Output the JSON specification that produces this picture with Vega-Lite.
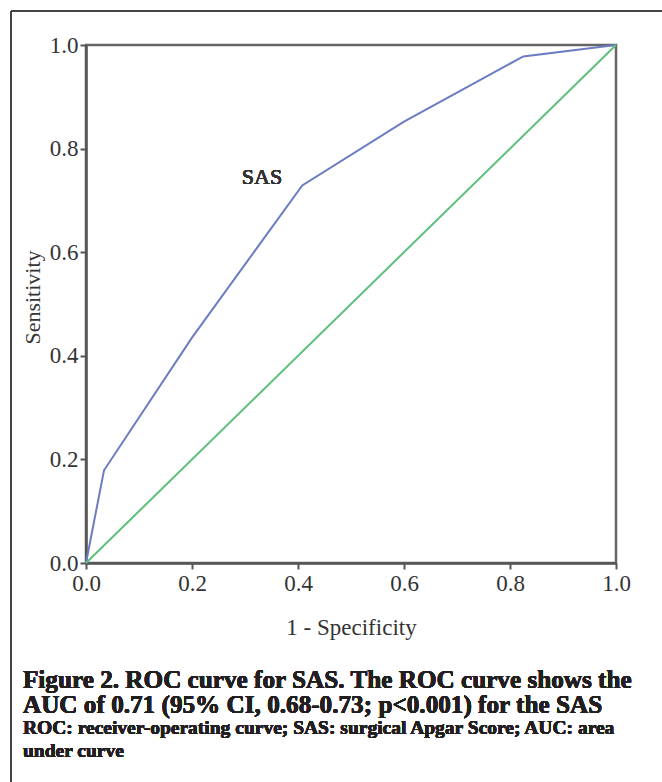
{
  "$schema": "https://vega.github.io/schema/vega-lite/v6.json",
  "autosize": "none",
  "width": 530,
  "height": 518,
  "padding": {"left": 86, "top": 45, "right": 46, "bottom": 219},
  "background": "white",
  "config": {
    "font": "Liberation Serif",
    "view": {"stroke": "#666666", "strokeWidth": 2.5}
  },
  "data": {
    "values": [
      {"fpr": 0.0, "tpr": 0.0, "series": "SAS", "order": 1},
      {"fpr": 0.034, "tpr": 0.179, "series": "SAS", "order": 2},
      {"fpr": 0.2, "tpr": 0.435, "series": "SAS", "order": 3},
      {"fpr": 0.408, "tpr": 0.729, "series": "SAS", "order": 4},
      {"fpr": 0.6, "tpr": 0.852, "series": "SAS", "order": 5},
      {"fpr": 0.825, "tpr": 0.978, "series": "SAS", "order": 6},
      {"fpr": 1.0, "tpr": 1.0, "series": "SAS", "order": 7},
      {"fpr": 0.0, "tpr": 0.0, "series": "Reference", "order": 1},
      {"fpr": 1.0, "tpr": 1.0, "series": "Reference", "order": 2}
    ]
  },
  "layer": [
    {
      "mark": {"type": "rule", "color": "#444444", "strokeWidth": 1.5, "clip": false},
      "encoding": {
        "x": {"datum": -0.1415, "type": "quantitative"},
        "y": {"datum": -0.43, "type": "quantitative"},
        "y2": {"datum": 1.0656}
      }
    },
    {
      "mark": {"type": "rule", "color": "#444444", "strokeWidth": 1.5, "clip": false},
      "encoding": {
        "y": {"datum": 1.0656, "type": "quantitative"},
        "x": {"datum": -0.1415, "type": "quantitative"},
        "x2": {"datum": 1.1}
      }
    },
    {
      "mark": {"type": "line", "strokeWidth": 2},
      "encoding": {
        "x": {
          "field": "fpr", "type": "quantitative",
          "scale": {"domain": [0, 1], "nice": false, "zero": false},
          "axis": {
            "title": "1 - Specificity",
            "values": [0, 0.2, 0.4, 0.6, 0.8, 1.0],
            "format": ".1f",
            "grid": false,
            "labelFlush": false,
            "domainColor": "#555555", "domainWidth": 2.5,
            "tickColor": "#555555", "tickWidth": 2, "tickSize": 6,
            "labelFont": "Liberation Serif", "labelFontSize": 23, "labelColor": "#333333",
            "labelPadding": 3,
            "titleFont": "Liberation Serif", "titleFontSize": 23, "titleFontWeight": "normal", "titleColor": "#333333",
            "titleY": 64, "titleBaseline": "middle"
          }
        },
        "y": {
          "field": "tpr", "type": "quantitative",
          "scale": {"domain": [0, 1], "nice": false, "zero": false},
          "axis": {
            "title": "Sensitivity",
            "values": [0, 0.2, 0.4, 0.6, 0.8, 1.0],
            "format": ".1f",
            "grid": false,
            "labelFlush": false,
            "domainColor": "#555555", "domainWidth": 2.5,
            "tickColor": "#555555", "tickWidth": 2, "tickSize": 6,
            "labelFont": "Liberation Serif", "labelFontSize": 23, "labelColor": "#333333",
            "labelPadding": 2,
            "titleFont": "Liberation Serif", "titleFontSize": 22, "titleFontWeight": "normal", "titleColor": "#333333",
            "titleX": -54, "titleY": 252, "titleBaseline": "middle", "titleAlign": "center", "titleAngle": -90
          }
        },
        "color": {
          "field": "series", "type": "nominal",
          "scale": {"domain": ["SAS", "Reference"], "range": ["#6b7cc2", "#5cbf7a"]},
          "legend": null
        },
        "order": {"field": "order", "type": "quantitative"}
      }
    },
    {
      "mark": {"type": "text", "text": "SAS", "font": "Liberation Serif", "fontSize": 22, "fontWeight": "normal", "color": "#333333", "align": "center", "baseline": "middle"},
      "encoding": {
        "x": {"datum": 0.332, "type": "quantitative"},
        "y": {"datum": 0.745, "type": "quantitative"}
      }
    },
    {
      "mark": {"type": "text", "text": ["Figure 2. ROC curve for SAS. The ROC curve shows the", "AUC of 0.71 (95% CI, 0.68-0.73; p<0.001) for the SAS"], "font": "Liberation Serif", "fontSize": 25.2, "fontWeight": "bold", "color": "#231f20", "align": "left", "baseline": "alphabetic", "lineHeight": 25.5, "clip": false},
      "encoding": {
        "x": {"datum": -0.1189, "type": "quantitative"},
        "y": {"datum": -0.2413, "type": "quantitative"}
      }
    },
    {
      "mark": {"type": "text", "text": ["ROC: receiver-operating curve; SAS: surgical Apgar Score; AUC: area", "under curve"], "font": "Liberation Serif", "fontSize": 19.5, "fontWeight": "bold", "color": "#231f20", "align": "left", "baseline": "alphabetic", "lineHeight": 23, "clip": false},
      "encoding": {
        "x": {"datum": -0.1189, "type": "quantitative"},
        "y": {"datum": -0.3301, "type": "quantitative"}
      }
    }
  ]
}
